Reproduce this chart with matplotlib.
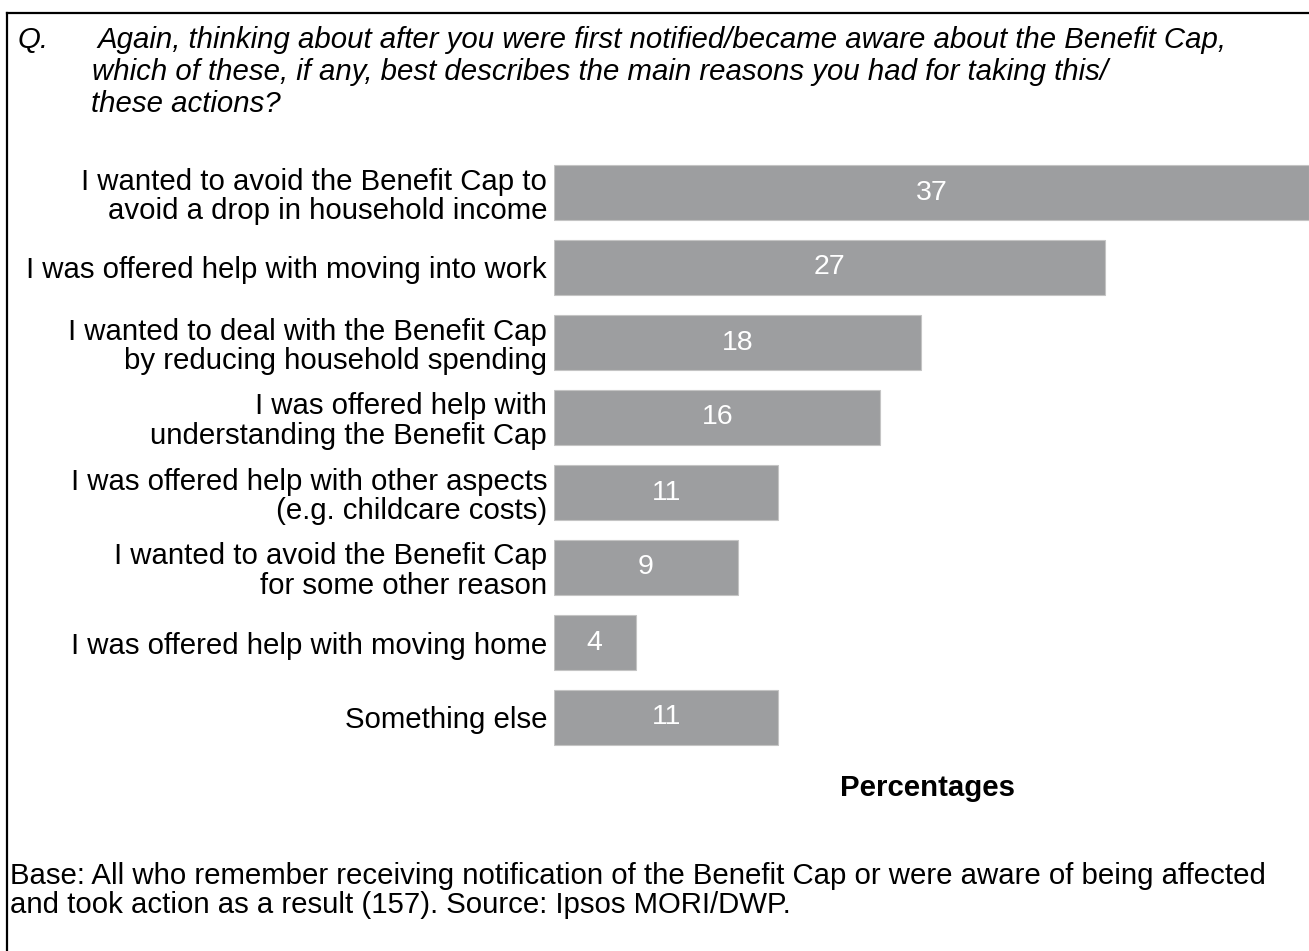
import matplotlib.pyplot as plt
from matplotlib.lines import Line2D

plt.rcParams['font.family'] = ['Liberation Sans', 'DejaVu Sans']

# Reasons for taking action after being notified of the Benefit Cap
reasons = [
    "I wanted to avoid the Benefit Cap to\navoid a drop in household income",
    "I was offered help with moving into work",
    "I wanted to deal with the Benefit Cap\nby reducing household spending",
    "I was offered help with\nunderstanding the Benefit Cap",
    "I was offered help with other aspects\n(e.g. childcare costs)",
    "I wanted to avoid the Benefit Cap\nfor some other reason",
    "I was offered help with moving home",
    "Something else",
]
percentages = [37, 27, 18, 16, 11, 9, 4, 11]

question_lines = [
    "Again, thinking about after you were first notified/became aware about the Benefit Cap,",
    "which of these, if any, best describes the main reasons you had for taking this/",
    "these actions?",
]
base_lines = [
    "Base: All who remember receiving notification of the Benefit Cap or were aware of being affected",
    "and took action as a result (157). Source: Ipsos MORI/DWP.",
]

FS = 21.2
W, H = 1309, 951
fig = plt.figure(figsize=(W / 100, H / 100), dpi=100)

# axes placed in pixel terms
left, right, top, bottom = 554, 1309, 155, 755
ax = fig.add_axes([left / W, 1 - bottom / H, (right - left) / W, (bottom - top) / H])

ypos = list(range(len(reasons)))
ax.barh(ypos, percentages, height=0.745, color="#9d9ea0", edgecolor="#c4c4c4", linewidth=0.8)
for y, v in zip(ypos, percentages):
    ax.text(v / 2, y, str(v), ha="center", va="center", color="white", fontsize=20.5)

ax.set_xlim(0, 37.0)
ax.set_ylim(len(reasons) - 0.5, -0.5)
ax.set_yticks(ypos)
ax.set_yticklabels(reasons, fontsize=FS, linespacing=1.06)
ax.tick_params(axis="y", length=0, pad=5)
ax.set_xticks([])
for s in ax.spines.values():
    s.set_visible(False)

# question text, one line at a time
fig.text(18 / W, 1 - 48 / H, "Q.", fontsize=FS, style="italic", va="baseline")
fig.text(97 / W, 1 - 48 / H, question_lines[0], fontsize=FS, style="italic", va="baseline")
fig.text(92 / W, 1 - 80 / H, question_lines[1], fontsize=FS, style="italic", va="baseline")
fig.text(91 / W, 1 - 112 / H, question_lines[2], fontsize=FS, style="italic", va="baseline")

fig.text(927 / W, 1 - 788 / H, "Percentages", fontsize=FS, fontweight="bold", ha="center", va="center")

fig.text(10 / W, 1 - 884 / H, base_lines[0], fontsize=FS, va="baseline")
fig.text(10 / W, 1 - 913 / H, base_lines[1], fontsize=FS, va="baseline")

# frame around the chart
fig.add_artist(Line2D([7 / W, 7 / W], [0, 1 - 13 / H], color="black", linewidth=1.6))
fig.add_artist(Line2D([7 / W, 1], [1 - 13 / H, 1 - 13 / H], color="black", linewidth=1.6))

fig.savefig("out.png", dpi=100)
